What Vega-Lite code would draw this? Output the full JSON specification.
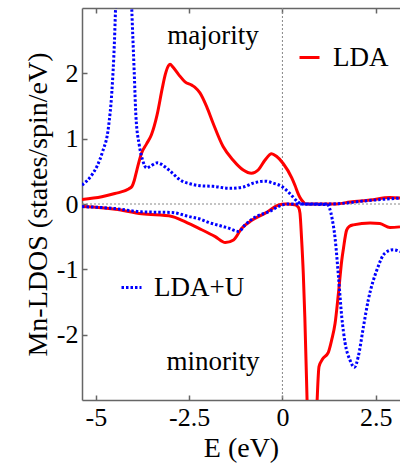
{
  "$schema": "https://vega.github.io/schema/vega-lite/v6.json",
  "width": 318,
  "height": 392,
  "autosize": {"type": "none"},
  "padding": {"left": 82, "top": 8, "right": 0, "bottom": 74},
  "config": {
    "font": "Liberation Serif",
    "view": {"stroke": null},
    "text": {"font": "Liberation Serif"},
    "axis": {
      "grid": false,
      "domainColor": "#666",
      "domainWidth": 1.5,
      "tickColor": "#666",
      "tickWidth": 1.5,
      "tickSize": -5,
      "labelFont": "Liberation Serif",
      "titleFont": "Liberation Serif",
      "labelFontSize": 26,
      "labelColor": "#000",
      "titleFontSize": 28,
      "titleFontWeight": "normal",
      "titleColor": "#000",
      "labelFlush": false,
      "labelOverlap": false,
      "labelPadding": 9
    },
    "legend": {
      "labelFont": "Liberation Serif",
      "labelFontSize": 27,
      "labelColor": "#000",
      "padding": 0,
      "symbolStrokeWidth": 3,
      "symbolSize": 400
    }
  },
  "datasets": {
    "dos": [
      {"method": "LDA", "spin": "up", "E": -5.37, "dos": 0.07},
      {"method": "LDA", "spin": "up", "E": -4.84, "dos": 0.11},
      {"method": "LDA", "spin": "up", "E": -4.49, "dos": 0.16},
      {"method": "LDA", "spin": "up", "E": -4.12, "dos": 0.23},
      {"method": "LDA", "spin": "up", "E": -4.03, "dos": 0.27},
      {"method": "LDA", "spin": "up", "E": -3.97, "dos": 0.36},
      {"method": "LDA", "spin": "up", "E": -3.9, "dos": 0.52},
      {"method": "LDA", "spin": "up", "E": -3.78, "dos": 0.77},
      {"method": "LDA", "spin": "up", "E": -3.64, "dos": 0.92},
      {"method": "LDA", "spin": "up", "E": -3.51, "dos": 1.06},
      {"method": "LDA", "spin": "up", "E": -3.36, "dos": 1.36},
      {"method": "LDA", "spin": "up", "E": -3.22, "dos": 1.77},
      {"method": "LDA", "spin": "up", "E": -3.14, "dos": 1.98},
      {"method": "LDA", "spin": "up", "E": -3.05, "dos": 2.12},
      {"method": "LDA", "spin": "up", "E": -3.01, "dos": 2.14},
      {"method": "LDA", "spin": "up", "E": -2.94, "dos": 2.1},
      {"method": "LDA", "spin": "up", "E": -2.78, "dos": 1.98},
      {"method": "LDA", "spin": "up", "E": -2.61, "dos": 1.87},
      {"method": "LDA", "spin": "up", "E": -2.43, "dos": 1.82},
      {"method": "LDA", "spin": "up", "E": -2.35, "dos": 1.79},
      {"method": "LDA", "spin": "up", "E": -2.21, "dos": 1.7},
      {"method": "LDA", "spin": "up", "E": -2.03, "dos": 1.49},
      {"method": "LDA", "spin": "up", "E": -1.86, "dos": 1.24},
      {"method": "LDA", "spin": "up", "E": -1.59, "dos": 0.88},
      {"method": "LDA", "spin": "up", "E": -1.32, "dos": 0.67},
      {"method": "LDA", "spin": "up", "E": -1.05, "dos": 0.52},
      {"method": "LDA", "spin": "up", "E": -0.83, "dos": 0.47},
      {"method": "LDA", "spin": "up", "E": -0.65, "dos": 0.52},
      {"method": "LDA", "spin": "up", "E": -0.47, "dos": 0.67},
      {"method": "LDA", "spin": "up", "E": -0.29, "dos": 0.77},
      {"method": "LDA", "spin": "up", "E": -0.16, "dos": 0.73},
      {"method": "LDA", "spin": "up", "E": 0.02, "dos": 0.62},
      {"method": "LDA", "spin": "up", "E": 0.25, "dos": 0.4},
      {"method": "LDA", "spin": "up", "E": 0.34, "dos": 0.28},
      {"method": "LDA", "spin": "up", "E": 0.42, "dos": 0.16},
      {"method": "LDA", "spin": "up", "E": 0.47, "dos": 0.1},
      {"method": "LDA", "spin": "up", "E": 0.56, "dos": 0.03},
      {"method": "LDA", "spin": "up", "E": 0.62, "dos": 0.0},
      {"method": "LDA", "spin": "up", "E": 1.45, "dos": 0.0},
      {"method": "LDA", "spin": "up", "E": 1.81, "dos": 0.03},
      {"method": "LDA", "spin": "up", "E": 2.35, "dos": 0.06},
      {"method": "LDA", "spin": "up", "E": 2.88, "dos": 0.1},
      {"method": "LDA", "spin": "up", "E": 3.15, "dos": 0.09},

      {"method": "LDA", "spin": "down", "E": -5.37, "dos": -0.04},
      {"method": "LDA", "spin": "down", "E": -4.48, "dos": -0.08},
      {"method": "LDA", "spin": "down", "E": -3.77, "dos": -0.15},
      {"method": "LDA", "spin": "down", "E": -2.96, "dos": -0.19},
      {"method": "LDA", "spin": "down", "E": -2.69, "dos": -0.25},
      {"method": "LDA", "spin": "down", "E": -2.25, "dos": -0.37},
      {"method": "LDA", "spin": "down", "E": -1.8, "dos": -0.5},
      {"method": "LDA", "spin": "down", "E": -1.53, "dos": -0.59},
      {"method": "LDA", "spin": "down", "E": -1.31, "dos": -0.55},
      {"method": "LDA", "spin": "down", "E": -1.09, "dos": -0.37},
      {"method": "LDA", "spin": "down", "E": -0.82, "dos": -0.25},
      {"method": "LDA", "spin": "down", "E": -0.46, "dos": -0.14},
      {"method": "LDA", "spin": "down", "E": -0.1, "dos": -0.015},
      {"method": "LDA", "spin": "down", "E": 0.08, "dos": 0.0},
      {"method": "LDA", "spin": "down", "E": 0.33, "dos": -0.01},
      {"method": "LDA", "spin": "down", "E": 0.43, "dos": -0.05},
      {"method": "LDA", "spin": "down", "E": 0.47, "dos": -0.14},
      {"method": "LDA", "spin": "down", "E": 0.51, "dos": -0.5},
      {"method": "LDA", "spin": "down", "E": 0.56, "dos": -1.08},
      {"method": "LDA", "spin": "down", "E": 0.6, "dos": -1.73},
      {"method": "LDA", "spin": "down", "E": 0.66, "dos": -3.0},
      {"method": "LDA", "spin": "down", "E": 0.79, "dos": -6.0},
      {"method": "LDA", "spin": "down", "E": 0.93, "dos": -3.0},
      {"method": "LDA", "spin": "down", "E": 0.98, "dos": -2.49},
      {"method": "LDA", "spin": "down", "E": 1.08, "dos": -2.37},
      {"method": "LDA", "spin": "down", "E": 1.23, "dos": -2.27},
      {"method": "LDA", "spin": "down", "E": 1.32, "dos": -2.08},
      {"method": "LDA", "spin": "down", "E": 1.41, "dos": -1.83},
      {"method": "LDA", "spin": "down", "E": 1.5, "dos": -1.37},
      {"method": "LDA", "spin": "down", "E": 1.59, "dos": -0.86},
      {"method": "LDA", "spin": "down", "E": 1.63, "dos": -0.7},
      {"method": "LDA", "spin": "down", "E": 1.72, "dos": -0.4},
      {"method": "LDA", "spin": "down", "E": 1.8, "dos": -0.34},
      {"method": "LDA", "spin": "down", "E": 1.9, "dos": -0.32},
      {"method": "LDA", "spin": "down", "E": 2.35, "dos": -0.29},
      {"method": "LDA", "spin": "down", "E": 2.61, "dos": -0.3},
      {"method": "LDA", "spin": "down", "E": 2.88, "dos": -0.36},
      {"method": "LDA", "spin": "down", "E": 3.15, "dos": -0.35},

      {"method": "LDA+U", "spin": "up", "E": -5.37, "dos": 0.29},
      {"method": "LDA+U", "spin": "up", "E": -5.1, "dos": 0.45},
      {"method": "LDA+U", "spin": "up", "E": -4.95, "dos": 0.6},
      {"method": "LDA+U", "spin": "up", "E": -4.82, "dos": 0.8},
      {"method": "LDA+U", "spin": "up", "E": -4.66, "dos": 1.18},
      {"method": "LDA+U", "spin": "up", "E": -4.57, "dos": 1.72},
      {"method": "LDA+U", "spin": "up", "E": -4.5, "dos": 2.5},
      {"method": "LDA+U", "spin": "up", "E": -4.46, "dos": 3.2},
      {"method": "LDA+U", "spin": "up", "E": -4.38, "dos": 4.8},
      {"method": "LDA+U", "spin": "up", "E": -4.26, "dos": 6.5},
      {"method": "LDA+U", "spin": "up", "E": -4.14, "dos": 4.9},
      {"method": "LDA+U", "spin": "up", "E": -4.05, "dos": 3.2},
      {"method": "LDA+U", "spin": "up", "E": -3.97, "dos": 2.0},
      {"method": "LDA+U", "spin": "up", "E": -3.925, "dos": 1.34},
      {"method": "LDA+U", "spin": "up", "E": -3.835, "dos": 0.9},
      {"method": "LDA+U", "spin": "up", "E": -3.745, "dos": 0.67},
      {"method": "LDA+U", "spin": "up", "E": -3.635, "dos": 0.55},
      {"method": "LDA+U", "spin": "up", "E": -3.56, "dos": 0.57},
      {"method": "LDA+U", "spin": "up", "E": -3.35, "dos": 0.63},
      {"method": "LDA+U", "spin": "up", "E": -3.15, "dos": 0.57},
      {"method": "LDA+U", "spin": "up", "E": -3.04, "dos": 0.52},
      {"method": "LDA+U", "spin": "up", "E": -2.69, "dos": 0.35},
      {"method": "LDA+U", "spin": "up", "E": -2.48, "dos": 0.31},
      {"method": "LDA+U", "spin": "up", "E": -2.21, "dos": 0.28},
      {"method": "LDA+U", "spin": "up", "E": -1.86, "dos": 0.27},
      {"method": "LDA+U", "spin": "up", "E": -1.41, "dos": 0.24},
      {"method": "LDA+U", "spin": "up", "E": -1.05, "dos": 0.26},
      {"method": "LDA+U", "spin": "up", "E": -0.78, "dos": 0.32},
      {"method": "LDA+U", "spin": "up", "E": -0.47, "dos": 0.35},
      {"method": "LDA+U", "spin": "up", "E": -0.25, "dos": 0.32},
      {"method": "LDA+U", "spin": "up", "E": -0.02, "dos": 0.27},
      {"method": "LDA+U", "spin": "up", "E": 0.2, "dos": 0.16},
      {"method": "LDA+U", "spin": "up", "E": 0.42, "dos": 0.03},
      {"method": "LDA+U", "spin": "up", "E": 0.52, "dos": 0.0},
      {"method": "LDA+U", "spin": "up", "E": 1.27, "dos": 0.0},
      {"method": "LDA+U", "spin": "up", "E": 2.26, "dos": 0.05},
      {"method": "LDA+U", "spin": "up", "E": 2.88, "dos": 0.08},
      {"method": "LDA+U", "spin": "up", "E": 3.15, "dos": 0.09},

      {"method": "LDA+U", "spin": "down", "E": -5.37, "dos": -0.04},
      {"method": "LDA+U", "spin": "down", "E": -4.48, "dos": -0.07},
      {"method": "LDA+U", "spin": "down", "E": -3.77, "dos": -0.12},
      {"method": "LDA+U", "spin": "down", "E": -2.96, "dos": -0.13},
      {"method": "LDA+U", "spin": "down", "E": -2.52, "dos": -0.19},
      {"method": "LDA+U", "spin": "down", "E": -2.21, "dos": -0.23},
      {"method": "LDA+U", "spin": "down", "E": -1.98, "dos": -0.28},
      {"method": "LDA+U", "spin": "down", "E": -1.44, "dos": -0.37},
      {"method": "LDA+U", "spin": "down", "E": -1.17, "dos": -0.42},
      {"method": "LDA+U", "spin": "down", "E": -1.0, "dos": -0.32},
      {"method": "LDA+U", "spin": "down", "E": -0.73, "dos": -0.2},
      {"method": "LDA+U", "spin": "down", "E": -0.37, "dos": -0.12},
      {"method": "LDA+U", "spin": "down", "E": -0.01, "dos": -0.015},
      {"method": "LDA+U", "spin": "down", "E": 0.17, "dos": 0.0},
      {"method": "LDA+U", "spin": "down", "E": 1.2, "dos": -0.01},
      {"method": "LDA+U", "spin": "down", "E": 1.26, "dos": -0.06},
      {"method": "LDA+U", "spin": "down", "E": 1.33, "dos": -0.22},
      {"method": "LDA+U", "spin": "down", "E": 1.41, "dos": -0.52},
      {"method": "LDA+U", "spin": "down", "E": 1.5, "dos": -1.1},
      {"method": "LDA+U", "spin": "down", "E": 1.59, "dos": -1.73},
      {"method": "LDA+U", "spin": "down", "E": 1.68, "dos": -2.13},
      {"method": "LDA+U", "spin": "down", "E": 1.81, "dos": -2.39},
      {"method": "LDA+U", "spin": "down", "E": 1.93, "dos": -2.5},
      {"method": "LDA+U", "spin": "down", "E": 2.03, "dos": -2.34},
      {"method": "LDA+U", "spin": "down", "E": 2.17, "dos": -1.88},
      {"method": "LDA+U", "spin": "down", "E": 2.3, "dos": -1.47},
      {"method": "LDA+U", "spin": "down", "E": 2.53, "dos": -1.01},
      {"method": "LDA+U", "spin": "down", "E": 2.75, "dos": -0.75},
      {"method": "LDA+U", "spin": "down", "E": 2.97, "dos": -0.7},
      {"method": "LDA+U", "spin": "down", "E": 3.15, "dos": -0.73}
    ],
    "notes": [
      {"label": "majority", "E": -1.86, "dos": 2.57},
      {"label": "minority", "E": -1.86, "dos": -2.42}
    ]
  },
  "layer": [
    {
      "data": {"values": [{}]},
      "mark": {"type": "rule", "color": "#888", "strokeWidth": 1, "strokeDash": [2, 2]},
      "encoding": {
        "x": {
          "datum": 0,
          "type": "quantitative",
          "scale": {"domain": [-5.37, 3.15], "nice": false, "zero": false},
          "axis": {"orient": "top", "labels": false, "title": null, "values": [-5, -2.5, 0, 2.5]}
        }
      }
    },
    {
      "data": {"values": [{}]},
      "mark": {"type": "rule", "color": "#888", "strokeWidth": 1, "strokeDash": [2, 2]},
      "encoding": {
        "y": {
          "datum": 0,
          "type": "quantitative",
          "scale": {"domain": [-3, 3], "nice": false, "zero": false},
          "axis": null
        }
      }
    },
    {
      "data": {"name": "dos"},
      "transform": [{"filter": "datum.method == 'LDA'"}],
      "mark": {"type": "line", "strokeWidth": 3, "clip": true, "interpolate": "monotone"},
      "encoding": {
        "x": {
          "field": "E",
          "type": "quantitative",
          "scale": {"domain": [-5.37, 3.15], "nice": false, "zero": false},
          "axis": {"orient": "bottom", "title": "E (eV)", "values": [-5, -2.5, 0, 2.5], "labelExpr": "'' + datum.value"}
        },
        "y": {
          "field": "dos",
          "type": "quantitative",
          "scale": {"domain": [-3, 3], "nice": false, "zero": false},
          "axis": {"orient": "left", "title": "Mn-LDOS (states/spin/eV)", "values": [-2, -1, 0, 1, 2], "labelExpr": "'' + datum.value"}
        },
        "color": {
          "field": "method",
          "type": "nominal",
          "scale": {"domain": ["LDA"], "range": ["#ff0000"]},
          "legend": {"orient": "none", "legendX": 214, "legendY": 36, "title": null, "labelOffset": 10}
        },
        "detail": {"field": "spin"}
      }
    },
    {
      "data": {"name": "dos"},
      "transform": [{"filter": "datum.method == 'LDA+U'"}],
      "mark": {"type": "line", "strokeWidth": 3, "clip": true, "interpolate": "monotone", "strokeDash": [2.5, 2]},
      "encoding": {
        "x": {
          "field": "E",
          "type": "quantitative",
          "scale": {"domain": [-5.37, 3.15], "nice": false, "zero": false},
          "axis": null
        },
        "y": {
          "field": "dos",
          "type": "quantitative",
          "scale": {"domain": [-3, 3], "nice": false, "zero": false},
          "axis": null
        },
        "color": {
          "field": "method",
          "type": "nominal",
          "scale": {"domain": ["LDA+U"], "range": ["#0000ff"]},
          "legend": {"orient": "none", "legendX": 36, "legendY": 266, "title": null, "labelOffset": 9, "symbolDash": [2.5, 2]}
        },
        "detail": {"field": "spin"}
      }
    },
    {
      "data": {"name": "notes"},
      "mark": {"type": "text", "fontSize": 27, "color": "#000", "font": "Liberation Serif"},
      "encoding": {
        "x": {"field": "E", "type": "quantitative", "scale": {"domain": [-5.37, 3.15], "nice": false, "zero": false}, "axis": null},
        "y": {"field": "dos", "type": "quantitative", "scale": {"domain": [-3, 3], "nice": false, "zero": false}, "axis": null},
        "text": {"field": "label"}
      }
    }
  ],
  "resolve": {
    "scale": {"color": "independent"},
    "axis": {"x": "independent", "y": "independent"},
    "legend": {"color": "independent"}
  }
}
